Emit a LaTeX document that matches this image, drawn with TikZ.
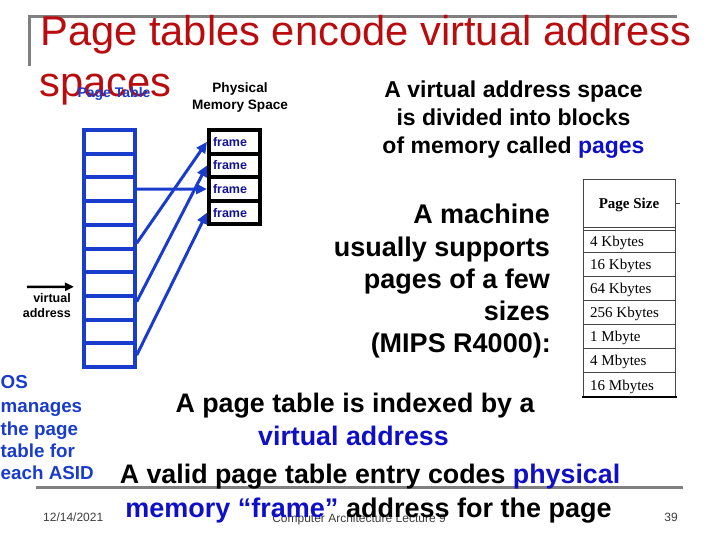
\documentclass[tikz,border=0pt]{standalone}
\usepackage{fontspec}
\setmainfont{Liberation Sans}
\newfontfamily\serifface{Liberation Serif}
\usetikzlibrary{arrows.meta}
\definecolor{titlered}{RGB}{185,12,15}
\definecolor{ptblue}{RGB}{25,60,205}
\definecolor{navyfr}{RGB}{20,20,145}
\definecolor{txtblue}{RGB}{15,15,200}
\definecolor{rulegray}{RGB}{128,128,128}
\definecolor{footgray}{RGB}{60,60,60}
\definecolor{tabgray}{RGB}{70,70,70}
\newcommand\fsz[1]{\fontsize{#1}{#1}\selectfont}
\begin{document}
\begin{tikzpicture}[x=1pt,y=-1pt,
  ptrow/.style={draw=ptblue,line width=4pt,minimum width=51pt,minimum height=23.7pt,inner sep=0pt},
  frm/.style={draw=black,line width=4pt,minimum width=51pt,minimum height=23.6pt,text width=43pt,inner xsep=4pt,inner ysep=0pt,align=left,font=\bfseries\fsz{12.5},text=navyfr},
  ptarrow/.style={draw=ptblue,line width=3pt,-{Triangle[length=11pt,width=10pt]}},
  txt/.style={inner sep=0pt,anchor=base},
  tabline/.style={draw=tabgray,line width=0.8pt},
  tabtxt/.style={inner sep=0pt,anchor=base west,font=\serifface\fsz{15}}
]
\useasboundingbox (0,0) rectangle (720,540);
% gray rules
\draw[rulegray,line width=3pt] (29.5,66) -- (29.5,17) -- (677,17);
\draw[rulegray,line width=3pt] (36,487) -- (683,487);
% title
\node[txt,anchor=base west,text=titlered,font=\fsz{41.7}] (t1) at (40,45.5) {Page tables encode virtual address};
\node[txt,anchor=base west,text=titlered,font=\fsz{41.7}] (t2) at (39,97) {spaces};
\node[txt,text=ptblue,font=\bfseries\fsz{14}] (ptlab) at (114,98) {Page Table};
\node[txt,font=\bfseries\fsz{13.6}] (pm1) at (240,93) {Physical};
\node[txt,font=\bfseries\fsz{13.6}] (pm2) at (240,110) {Memory Space};
% page table
\foreach \i in {1,...,10}
  \node[ptrow] (r\i) at (109.2,{130+23.7*(\i-0.5)}) {};
% frames
\foreach \i in {1,...,4}
  \node[frm] (f\i) at (234.5,{130+23.6*(\i-0.5)}) {frame};
% arrows
\draw[ptarrow] (r3.east) -- (f3.west);
\draw[ptarrow] ([yshift=-6.6pt]r5.east) -- (f1.west);
\draw[ptarrow] ([yshift=6pt]r8.east) -- (f2.west);
\draw[ptarrow] (r10.east) -- (f4.west);
% virtual address input
\coordinate (vain) at (27,287);
\draw[line width=2.5pt,-{Triangle[length=9pt,width=8pt]}] (vain) -- ([xshift=-7.7pt,yshift=-2.7pt]r7.west);
\node[txt,anchor=base east,font=\bfseries\fsz{12.5}] (va1) at (71,302.7) {virtual};
\node[txt,anchor=base east,font=\bfseries\fsz{12.5}] (va2) at (71,317) {address};
% right text block 1
\node[txt,font=\bfseries\fsz{23}] (b1) at (513.5,98) {A virtual address space};
\node[txt,font=\bfseries\fsz{23}] (b2) at (513.5,126) {is divided into blocks};
\node[txt,font=\bfseries\fsz{23}] (b3) at (513.5,154) {of memory called \textcolor{txtblue}{pages}};
% right text block 2
\node[txt,anchor=base east,font=\bfseries\fsz{27}] (m1) at (550,223) {A machine};
\node[txt,anchor=base east,font=\bfseries\fsz{27}] (m2) at (550,256) {usually supports};
\node[txt,anchor=base east,font=\bfseries\fsz{27}] (m3) at (550,288) {pages of a few};
\node[txt,anchor=base east,font=\bfseries\fsz{27}] (m4) at (550,320) {sizes};
\node[txt,anchor=base east,font=\bfseries\fsz{27}] (m5) at (551,352) {(MIPS R4000):};
% table
\draw[tabline] (583,179) -- (675,179);
\draw[tabline] (583,179) -- (583,397);
\draw[tabline] (675,179) -- (675,397);
\draw[tabline] (675,203) -- (680,203);
\draw[tabline] (583,227) -- (675,227);
\draw[tabline] (583,230) -- (675,230);
\foreach \yy in {252,276,300,324,348,372}
  \draw[tabline] (583,\yy) -- (675,\yy);
\draw[black,line width=2.5pt] (582,397) -- (677,397);
\node[txt,font=\serifface\bfseries\fsz{15}] (th) at (629,208) {Page Size};
\node[tabtxt] (s1) at (590,246) {4 Kbytes};
\node[tabtxt] (s2) at (590,269.5) {16 Kbytes};
\node[tabtxt] (s3) at (590,293.5) {64 Kbytes};
\node[tabtxt] (s4) at (590,317.5) {256 Kbytes};
\node[tabtxt] (s5) at (590,341.5) {1 Mbyte};
\node[tabtxt] (s6) at (590,365.5) {4 Mbytes};
\node[tabtxt] (s7) at (590,390) {16 Mbytes};
% OS text
\node[txt,anchor=base west,text=ptblue,font=\bfseries\fsz{18.8}] (os1) at (0.5,388.5) {OS};
\node[txt,anchor=base west,text=ptblue,font=\bfseries\fsz{18.8}] (os2) at (0.5,412) {manages};
\node[txt,anchor=base west,text=ptblue,font=\bfseries\fsz{18.8}] (os3) at (0.5,435) {the page};
\node[txt,anchor=base west,text=ptblue,font=\bfseries\fsz{18.8}] (os4) at (0.5,457.5) {table for};
\node[txt,anchor=base west,text=ptblue,font=\bfseries\fsz{18.8}] (os5) at (0.5,479.5) {each ASID};
% footer
\node[txt,anchor=base west,text=footgray,font=\fsz{12}] (date) at (43,521) {12/14/2021};
\node[txt,text=footgray,font=\fsz{12}] (course) at (359,522) {Computer Architecture Lecture 9};
\node[txt,text=footgray,font=\fsz{12}] (pg) at (671,521) {39};
% bottom text
\node[txt,font=\bfseries\fsz{26.8}] (x1) at (355,412) {A page table is indexed by a};
\node[txt,text=txtblue,font=\bfseries\fsz{26.8}] (x2) at (353.5,445) {virtual address};
\node[txt,font=\bfseries\fsz{26.8}] (x3) at (370,483) {A valid page table entry codes \textcolor{txtblue}{physical}};
\node[txt,font=\bfseries\fsz{27}] (x4) at (368.5,517) {\textcolor{txtblue}{memory “frame”} address for the page};
\end{tikzpicture}
\end{document}
